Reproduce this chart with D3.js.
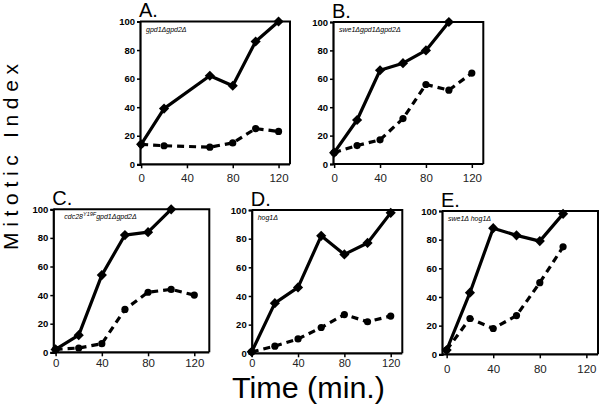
<!DOCTYPE html>
<html><head><meta charset="utf-8">
<script src="https://cdn.jsdelivr.net/npm/d3@7"></script>
<style>body{margin:0;background:#fff}svg{display:block}</style>
</head><body>
<script>
// ---- data ----
const panelIds = ["A", "B", "C", "D", "E"];
const xTicks = [0, 40, 80, 120];
const yTicks = [0, 20, 40, 60, 80, 100];

const aSolidT = [0, 20, 60, 80, 100, 120];
const aSolidV = [14, 39, 62, 55, 86, 100];
const aDashT  = [0, 20, 60, 80, 100, 120];
const aDashV  = [14, 13, 12, 15, 25, 23];

const bSolidT = [0, 20, 40, 60, 80, 100];
const bSolidV = [8, 31, 66, 71, 80, 100];
const bDashT  = [0, 20, 40, 60, 80, 100, 120];
const bDashV  = [8, 13, 17, 32, 56, 52, 64];

const cSolidT = [0, 20, 40, 60, 80, 100];
const cSolidV = [2, 12, 54, 82, 84, 100];
const cDashT  = [0, 20, 40, 60, 80, 100, 120];
const cDashV  = [2, 3, 6, 30, 42, 44, 40];

const dSolidT = [0, 20, 40, 60, 80, 100, 120];
const dSolidV = [1, 35, 46, 82, 69, 77, 98];
const dDashT  = [0, 20, 40, 60, 80, 100, 120];
const dDashV  = [1, 5, 10, 18, 27, 22, 26];

const eSolidT = [0, 20, 40, 60, 80, 100];
const eSolidV = [3, 43, 88, 83, 79, 98];
const eDashT  = [0, 20, 40, 60, 80, 100];
const eDashV  = [3, 25, 18, 27, 50, 75];

const subtitles = ["gpd1\u0394gpd2\u0394", "swe1\u0394gpd1\u0394gpd2\u0394", "cdc28", "hog1\u0394", "swe1\u0394  hog1\u0394"];

// ---- layout ----
const W = 600, H = 404;
const layout = [
  {l:140, r:290, t:21.5, b:164.3, x0:-1, x1:130, lab:16},
  {l:333, r:483.3, t:22, b:164, x0:-1, x1:130, lab:16},
  {l:53.3, r:209.3, t:209.3, b:352.3, x0:-2, x1:133, lab:13},
  {l:251.7, r:402.3, t:210, b:353.3, x0:0, x1:130, lab:11.5},
  {l:442, r:598, t:211, b:354.3, x0:-4, x1:130, lab:17}
];
const series = [
  [[aSolidT,aSolidV],[aDashT,aDashV]],
  [[bSolidT,bSolidV],[bDashT,bDashV]],
  [[cSolidT,cSolidV],[cDashT,cDashV]],
  [[dSolidT,dSolidV],[dDashT,dDashV]],
  [[eSolidT,eSolidV],[eDashT,eDashV]]
];

const svg = d3.select("body").append("svg").attr("width", W).attr("height", H)
  .style("font-family", "'Liberation Sans', Arial, sans-serif");
svg.append("rect").attr("width", W).attr("height", H).attr("fill", "#fff");

panelIds.forEach((id, i) => {
  const L = layout[i];
  const x = d3.scaleLinear().domain([L.x0, L.x1]).range([L.l, L.r]);
  const y = d3.scaleLinear().domain([0, 100]).range([L.b, L.t]);
  const g = svg.append("g");

  // frame top/right
  g.append("path").attr("d", `M${L.l},${L.t}H${L.r}V${L.b}`)
    .attr("fill", "none").attr("stroke", "#000").attr("stroke-width", 2);

  // y axis
  const ya = g.append("g").attr("transform", `translate(${L.l},0)`)
    .call(d3.axisLeft(y).tickValues(yTicks).tickSize(3).tickPadding(2));
  ya.select(".domain").attr("stroke-width", 2.2);
  ya.selectAll(".tick line").attr("stroke-width", 1.5);
  ya.selectAll("text").attr("font-size", 9.5).attr("font-weight", "bold")
    .attr("font-family", "'Liberation Sans', Arial, sans-serif").attr("fill", "#000");

  // x axis
  const xa = g.append("g").attr("transform", `translate(0,${L.b})`)
    .call(d3.axisBottom(x).tickValues(xTicks).tickSize(4).tickPadding(L.lab - 10));
  xa.select(".domain").attr("d", `M${L.l},0H${L.r}`).attr("stroke-width", 2.2);
  xa.selectAll(".tick line").attr("stroke-width", 1.5);
  xa.selectAll("text").attr("font-size", id === "D" ? 11 : 11.5)
    .attr("font-family", "'Liberation Sans', Arial, sans-serif").attr("fill", "#222");

  // panel letter
  g.append("text").attr("x", L.l - 1).attr("y", L.t - 4.5).text(id + ".")
    .attr("font-size", 20).attr("fill", "#000");

  // subtitle
  const st = g.append("text").attr("x", L.l + 6).attr("y", L.t + 10)
    .attr("font-size", 7).attr("font-style", "italic").attr("fill", "#000");
  if (id === "C") {
    st.attr("x", L.l + 11);
    st.append("tspan").text("cdc28");
    st.append("tspan").attr("dy", -3).attr("font-size", 5.5).text("Y19F");
    st.append("tspan").attr("dy", 3).text("gpd1\u0394gpd2\u0394");
  } else {
    st.text(subtitles[i]);
  }

  const line = d3.line().x(d => x(d[0])).y(d => y(d[1]));
  // dashed series
  const dd = d3.zip(series[i][1][0], series[i][1][1]);
  g.append("path").datum(dd).attr("d", line).attr("fill", "none")
    .attr("stroke", "#000").attr("stroke-width", 3.2).attr("stroke-dasharray", "7,5");
  g.selectAll(".dot" + i).data(dd).enter().append("circle")
    .attr("cx", d => x(d[0])).attr("cy", d => y(d[1])).attr("r", 3.6).attr("fill", "#000");

  // solid series
  const sd = d3.zip(series[i][0][0], series[i][0][1]);
  g.append("path").datum(sd).attr("d", line).attr("fill", "none")
    .attr("stroke", "#000").attr("stroke-width", 3.2).attr("stroke-linejoin", "round");
  g.selectAll(".dia" + i).data(sd).enter().append("path")
    .attr("transform", d => `translate(${x(d[0])},${y(d[1])}) rotate(45)`)
    .attr("d", "M-3.6,-3.6H3.6V3.6H-3.6Z").attr("fill", "#000");
});

// axis titles
svg.append("text").attr("transform", "translate(17.5,157) rotate(-90)")
  .attr("text-anchor", "middle").attr("font-size", 21)
  .attr("textLength", 186).attr("lengthAdjust", "spacing").text("Mitotic Index");
svg.append("text").attr("x", 232).attr("y", 398).attr("font-size", 30)
  .attr("textLength", 153).attr("lengthAdjust", "spacingAndGlyphs").text("Time (min.)");
</script>
</body></html>
